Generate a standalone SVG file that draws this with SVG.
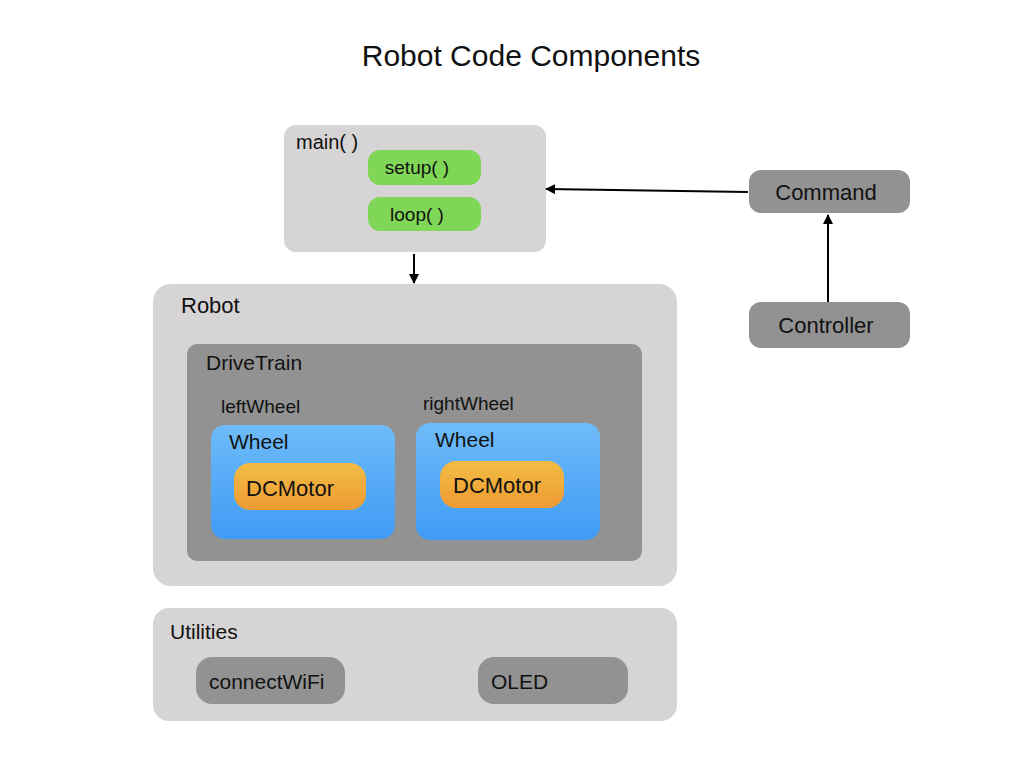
<svg xmlns="http://www.w3.org/2000/svg" width="1024" height="768" viewBox="0 0 1024 768">
  <style>
    text { font-family: "Liberation Sans", Arial, sans-serif; fill: #111; }
    .light { fill: #d6d4d5; }
    .dark { fill: #929292; }
    .green { fill: #80d656; }
    .edge { stroke: #000; stroke-width: 2; fill: none; marker-end: url(#arrow); }
  </style>
  <defs>
    <marker id="arrow" viewBox="0 0 10 10" refX="9" refY="5" markerWidth="5" markerHeight="5" orient="auto">
      <path d="M0,0 L10,5 L0,10 z" fill="#000"/>
    </marker>
    <linearGradient id="wheelGrad" x1="0" y1="0" x2="0" y2="1">
      <stop offset="0" stop-color="#6fbbf9"/>
      <stop offset="1" stop-color="#3f9bf5"/>
    </linearGradient>
    <linearGradient id="motorGrad" x1="0" y1="0" x2="0" y2="1">
      <stop offset="0" stop-color="#f1bd44"/>
      <stop offset="1" stop-color="#ef9a33"/>
    </linearGradient>
  </defs>

  <rect width="1024" height="768" fill="#fff"/>

  <text x="531" y="66" font-size="30" text-anchor="middle">Robot Code Components</text>

  <g id="main">
    <rect class="light" x="284" y="125" width="262" height="127" rx="12"/>
    <text x="296" y="149" font-size="20">main( )</text>
    <g id="setup">
      <rect class="green" x="368" y="150" width="113" height="35" rx="12"/>
      <text x="417" y="174" font-size="19" text-anchor="middle">setup( )</text>
    </g>
    <g id="loop">
      <rect class="green" x="368" y="197" width="113" height="34" rx="12"/>
      <text x="417" y="221" font-size="19" text-anchor="middle">loop( )</text>
    </g>
  </g>

  <g id="command">
    <rect class="dark" x="749" y="170" width="161" height="43" rx="12"/>
    <text x="826" y="200" font-size="22" text-anchor="middle">Command</text>
  </g>

  <g id="controller">
    <rect class="dark" x="749" y="302" width="161" height="46" rx="12"/>
    <text x="826" y="333" font-size="22" text-anchor="middle">Controller</text>
  </g>

  <g id="robot">
    <rect class="light" x="153" y="284" width="524" height="302" rx="18"/>
    <text x="181" y="313" font-size="22">Robot</text>
    <g id="drivetrain">
      <rect class="dark" x="187" y="344" width="455" height="217" rx="10"/>
      <text x="206" y="370" font-size="21">DriveTrain</text>
      <text x="221" y="413" font-size="19">leftWheel</text>
      <text x="423" y="410" font-size="19">rightWheel</text>
      <g id="leftWheel">
        <rect x="211" y="425" width="184" height="114" rx="14" fill="url(#wheelGrad)"/>
        <text x="229" y="449" font-size="21">Wheel</text>
        <g id="leftMotor">
          <rect x="234" y="463" width="132" height="47" rx="16" fill="url(#motorGrad)"/>
          <text x="246" y="496" font-size="22">DCMotor</text>
        </g>
      </g>
      <g id="rightWheel">
        <rect x="416" y="423" width="184" height="117" rx="14" fill="url(#wheelGrad)"/>
        <text x="435" y="447" font-size="21">Wheel</text>
        <g id="rightMotor">
          <rect x="440" y="461" width="124" height="47" rx="16" fill="url(#motorGrad)"/>
          <text x="453" y="493" font-size="22">DCMotor</text>
        </g>
      </g>
    </g>
  </g>

  <g id="utilities">
    <rect class="light" x="153" y="608" width="524" height="113" rx="16"/>
    <text x="170" y="639" font-size="21">Utilities</text>
    <g id="connectWiFi">
      <rect class="dark" x="196" y="657" width="149" height="47" rx="16"/>
      <text x="209" y="689" font-size="21">connectWiFi</text>
    </g>
    <g id="oled">
      <rect class="dark" x="478" y="657" width="150" height="47" rx="16"/>
      <text x="491" y="689" font-size="21">OLED</text>
    </g>
  </g>

  <g id="connectors">
    <line class="edge" x1="748" y1="192" x2="546" y2="189"/>
    <line class="edge" x1="414" y1="254" x2="414" y2="283"/>
    <line class="edge" x1="828" y1="302" x2="828" y2="215"/>
  </g>
</svg>
